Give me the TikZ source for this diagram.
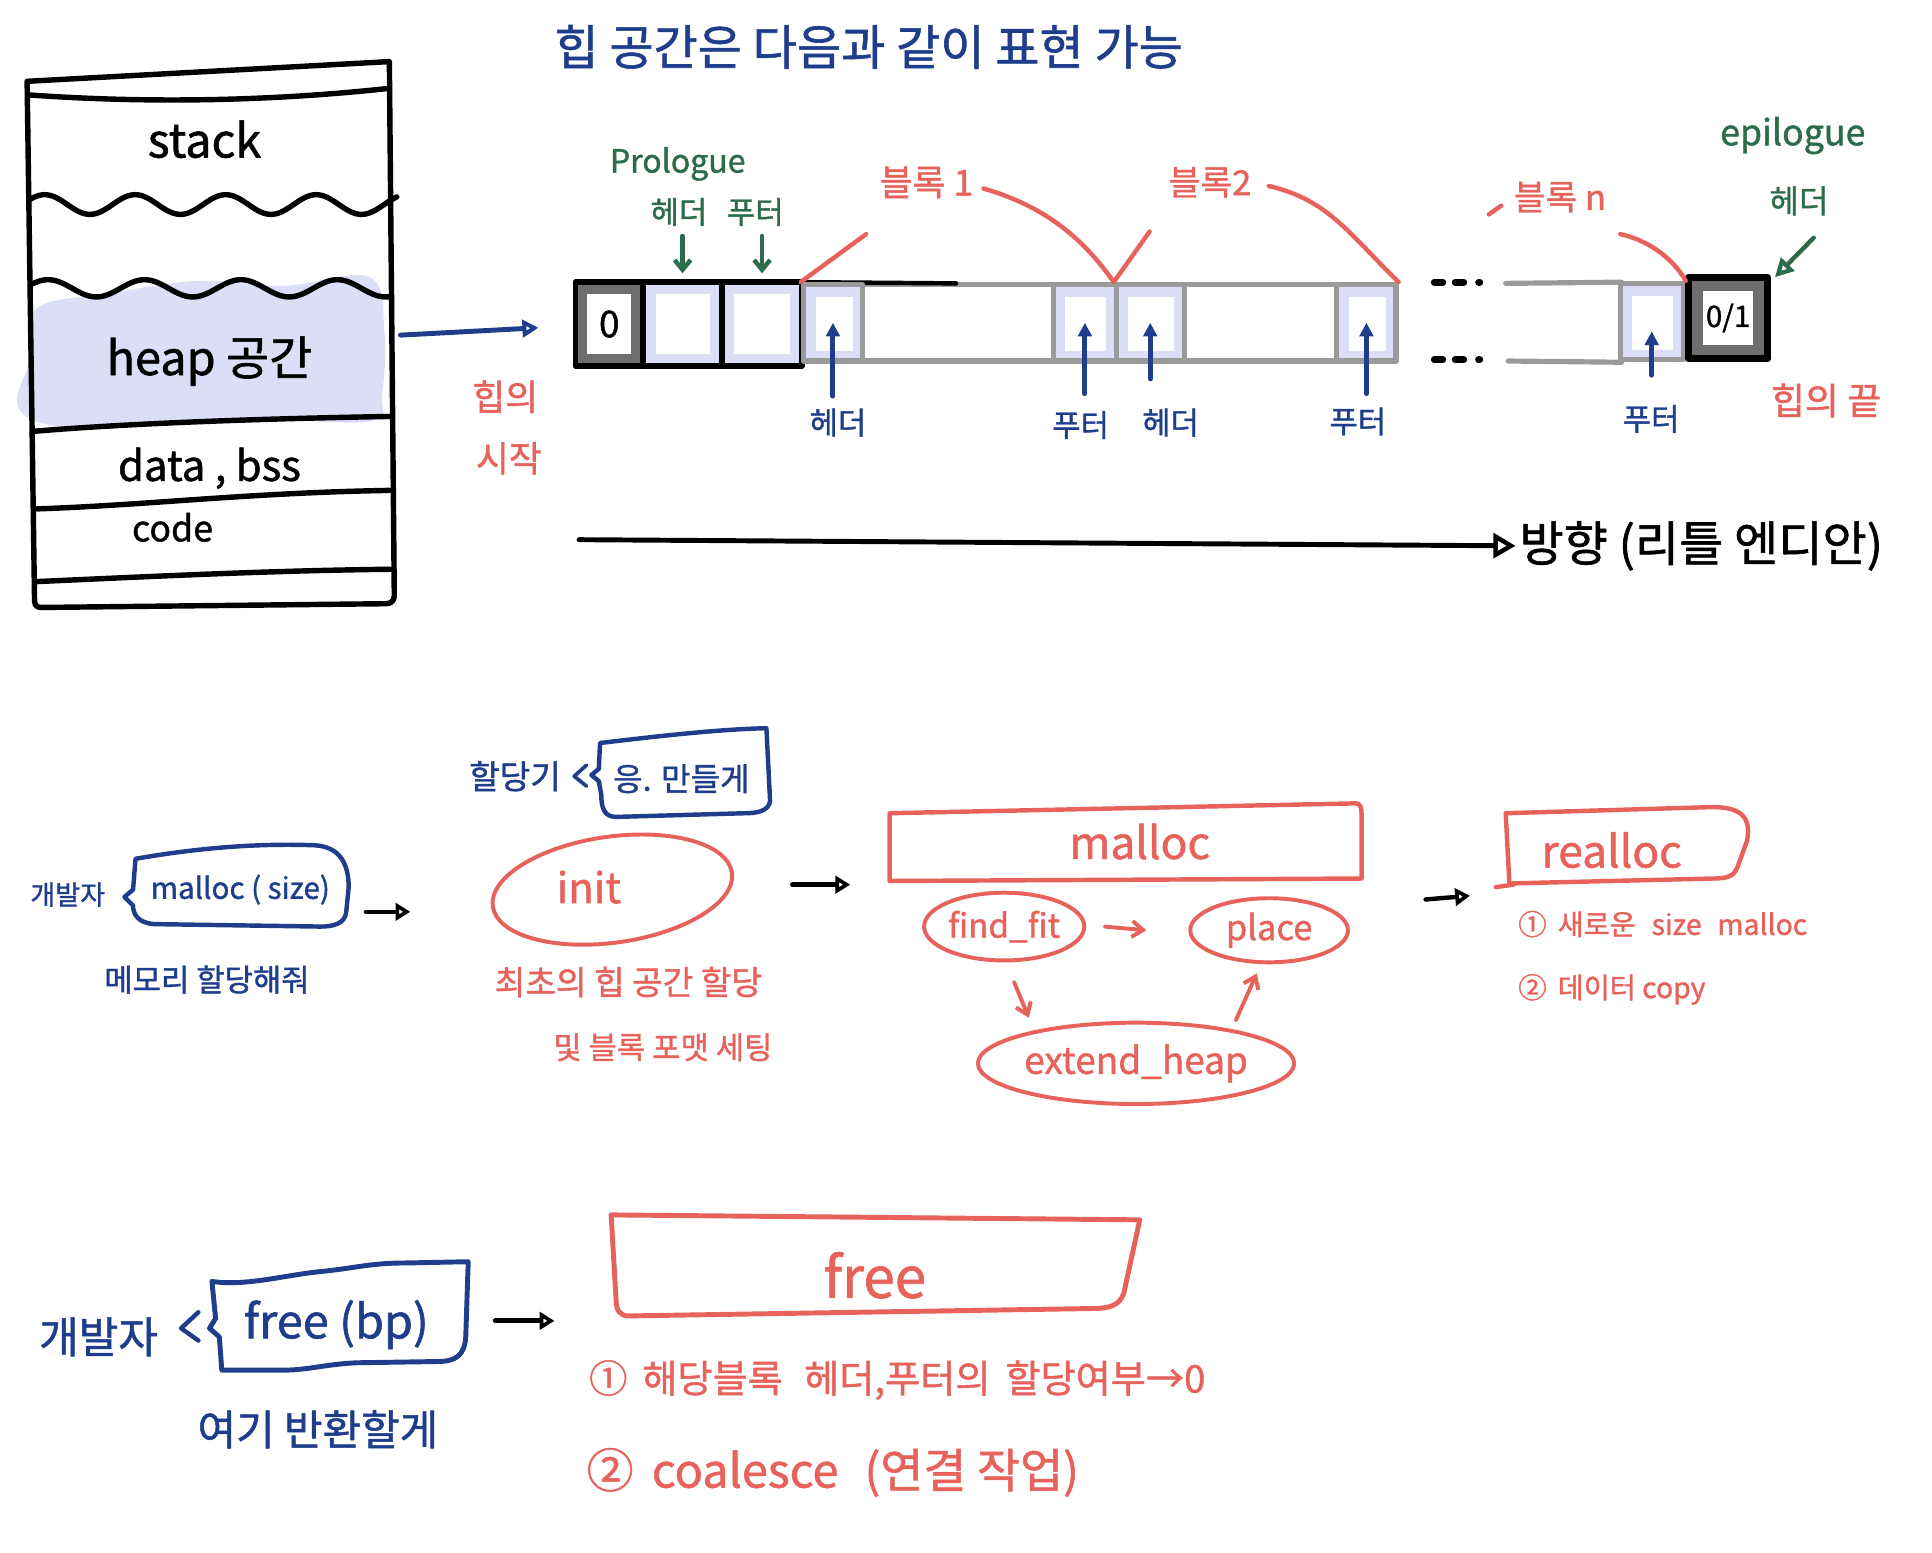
\documentclass[tikz,border=0pt]{standalone}
\usepackage{fontspec}
\setmainfont{Noto Sans CJK KR}[FakeBold=1.2]
\usetikzlibrary{arrows.meta,shapes.geometric,calc}
\definecolor{navy}{HTML}{1E3E8C}
\definecolor{hred}{HTML}{E8625C}
\definecolor{hgreen}{HTML}{2D6C4B}
\definecolor{lav}{HTML}{DCDEF8}
\definecolor{agray}{HTML}{9A9A9A}
\definecolor{dgray}{HTML}{6E6E6E}
\newcommand{\hsz}[1]{\fontsize{#1}{#1}\selectfont}
\begin{document}
\begin{tikzpicture}[x=1pt,y=-1pt,line cap=round,line join=round,
  ink/.style={line width=4.4pt},
  lbl/.style={inner sep=0pt},
  barr/.style={navy,line width=4pt,-{Triangle[length=11pt,width=11pt]}},
  garr/.style={hgreen,line width=3.6pt,-{Straight Barb[length=8pt,width=13pt]}},
  gopen/.style={hgreen,line width=3.6pt,-{Triangle[open,length=15pt,width=15pt,line width=3.4pt]}},
  rarr/.style={hred,line width=3.2pt,-{Straight Barb[length=9pt,width=13pt]}},
  redln/.style={hred,line width=3.6pt},
  karr/.style={black,line width=3.6pt,-{Triangle[open,length=12pt,width=14pt,line width=3pt]}},
  bbox/.style={navy,line width=3.6pt},
  rbox/.style={hred,line width=3.6pt},
  pcell/.style={draw=black,line width=4.4pt,fill=lav,minimum height=68pt,inner sep=0pt},
  gcell/.style={draw=agray,line width=4.2pt,fill=lav,minimum height=62pt,inner sep=0pt},
  incell/.style={fill=white,inner sep=0pt},
  rell/.style={draw=hred,line width=3.2pt,ellipse,inner sep=0pt,text=hred},
]
\useasboundingbox (0,0) rectangle (1568,1260);

% ---------------- memory layout ----------------
\fill[lav] plot[smooth cycle, tension=0.6] coordinates {(30,250) (90,238) (160,228) (230,232) (300,225) (312,270) (310,320) (300,342) (200,340) (100,346) (40,345) (14,328) (25,290)};
\draw[ink] (22,66) -- (316,50) -- (320,484) .. controls (319,490) and (316,490) .. (310,490) -- (34,493) .. controls (28,493) and (28,490) .. (28,485) -- cycle;
\draw[ink] (23,77) .. controls (120,84) and (220,82) .. (313,72);
\draw[ink] plot[domain=24:322,samples=150] (\x,{166+8*sin((\x-24)*4.9+210)});
\draw[ink] plot[domain=26:318,samples=150] (\x,{234+7*sin((\x-26)*4.6+210)});
\draw[ink] (28,350) .. controls (100,344) and (200,340) .. (316,338);
\draw[ink] (30,413) .. controls (120,410) and (200,400) .. (316,398);
\draw[ink] (30,472) .. controls (120,468) and (220,463) .. (318,462);
\node[lbl,font=\hsz{38}] (stk) at (166,113) {stack};
\node[lbl,font=\hsz{38}] (heap) at (170,293) {heap 공간};
\node[lbl,font=\hsz{34}] (dbss) at (170,380) {data , bss};
\node[lbl,font=\hsz{29}] (code) at (140,428) {code};
\coordinate (hs0) at (325,272);
\coordinate (hs1) at (437,266);
\draw[navy,line width=4pt,-{Triangle[open,length=13pt,width=14pt,line width=3.4pt]}] (hs0) -- (hs1);
\node[lbl,font=\hsz{29},text=hred] (hst1) at (410,322) {힙의};
\node[lbl,font=\hsz{29},text=hred] (hst2) at (413,372) {시작};

% ---------------- title ----------------
\node[lbl,font=\hsz{39},text=navy] (title) at (705,38) {힙 공간은 다음과 같이 표현 가능};

% ---------------- heap array ----------------
\draw[agray,line width=4.2pt] (651,231) -- (1133,231);
\draw[agray,line width=4.2pt] (651,293) -- (1133,293);
\draw[black,line width=3.6pt] (651,229) -- (776,230);
\draw[agray,line width=4.2pt] (1222,230) -- (1316,229);
\draw[agray,line width=4.2pt] (1224,293) -- (1316,294);
\foreach \yy in {229,292}{
  \draw[black,line width=5.5pt] (1164,\yy) -- (1171,\yy);
  \draw[black,line width=5.5pt] (1181,\yy) -- (1188,\yy);
  \draw[black,line width=5.5pt] (1200,\yy) -- (1201,\yy);
}
% prologue part
\node[pcell,fill=dgray,minimum width=55pt] (c0) at (494.5,263) {};
\node[incell,minimum width=36pt,minimum height=48pt,font=\hsz{30}] (c0t) at (c0) {0};
\node[pcell,minimum width=64pt] (c1) at (554,263) {};
\node[incell,minimum width=44pt,minimum height=48pt] (c1i) at (c1) {};
\node[pcell,minimum width=65pt] (c2) at (618.5,263) {};
\node[incell,minimum width=45pt,minimum height=48pt] (c2i) at (c2) {};
% block cells
\node[gcell,minimum width=48pt] (h1) at (676,262) {};
\node[incell,minimum width=30pt,minimum height=44pt] (h1i) at (677,263) {};
\node[gcell,minimum width=51pt] (f1) at (880.5,262) {};
\node[incell,minimum width=33pt,minimum height=44pt] (f1i) at (881,263) {};
\node[gcell,minimum width=55pt] (h2) at (933.5,262) {};
\node[incell,minimum width=37pt,minimum height=44pt] (h2i) at (934,263) {};
\node[gcell,minimum width=48pt] (f2) at (1109,262) {};
\node[incell,minimum width=30pt,minimum height=44pt] (f2i) at (1110,263) {};
\node[gcell,minimum width=51pt] (fn) at (1340.5,261) {};
\node[incell,minimum width=33pt,minimum height=44pt] (fni) at (1341,262) {};
% epilogue
\node[draw=black,line width=6pt,fill=dgray,minimum width=64pt,minimum height=66pt,inner sep=0pt] (ep) at (1402.5,258) {};
\node[incell,minimum width=40pt,minimum height=44pt,font=\hsz{24}] (ept) at (ep) {0/1};

% prologue labels
\node[lbl,font=\hsz{26},text=hgreen] (pro) at (550,133) {Prologue};
\node[lbl,font=\hsz{25},text=hgreen] (ph) at (551,172) {헤더};
\node[lbl,font=\hsz{25},text=hgreen] (pf) at (613,172) {푸터};
\draw[garr] (c1.north |- ph.south) ++(0,8) -- ([yshift=5pt]c1.north);
\draw[garr] (c2.north |- pf.south) ++(0,8) -- ([yshift=5pt]c2.north);

% block labels and braces
\node[lbl,font=\hsz{29},text=hred] (b1) at (752,148) {블록 1};
\node[lbl,font=\hsz{28},text=hred] (b2) at (982,148) {블록2};
\node[lbl,font=\hsz{28},text=hred] (bn) at (1266,160) {블록 n};
\coordinate (b1l) at (703,190);
\coordinate (b2l) at (933,188);
\draw[redln] (h1.north west) -- (b1l);
\draw[redln] (b1.east) ++(8,5) .. controls (850,168) and (880,195) .. (h2.north west);
\draw[redln] (h2.north west) -- (b2l);
\draw[redln] (b2.east) ++(14,3) .. controls (1078,162) and (1095,190) .. (f2.north east);
\draw[redln] (bn.west) ++(-20,14) -- ++(10,-7);
\draw[redln] (1315,190) .. controls (1338,195) and (1358,210) .. (fn.north east);

% blue labels under cells
\node[lbl,font=\hsz{25},text=navy] (lh1) at (680,343) {헤더};
\node[lbl,font=\hsz{25},text=navy] (lf1) at (877,345) {푸터};
\node[lbl,font=\hsz{25},text=navy] (lh2) at (950,343) {헤더};
\node[lbl,font=\hsz{25},text=navy] (lf2) at (1102,342) {푸터};
\node[lbl,font=\hsz{25},text=navy] (lfn) at (1340,340) {푸터};
\draw[barr] (h1.center |- lh1.north) ++(0,-10) -- (h1.center);
\draw[barr] (f1.center |- lf1.north) ++(0,-14) -- (f1.center);
\draw[barr] (h2.center |- lh2.north) ++(0,-24) -- (h2.center);
\draw[barr] (f2.center |- lf2.north) ++(0,-11) -- (f2.center);
\draw[barr] (fn.center |- lfn.north) ++(0,-24) -- ([yshift=-8pt]fn.center);

% epilogue labels
\node[lbl,font=\hsz{29},text=hgreen] (epl) at (1455,110) {epilogue};
\node[lbl,font=\hsz{26},text=hgreen] (eph) at (1460,163) {헤더};
\draw[gopen] (eph.south) ++(12,18) -- ([xshift=3pt,yshift=-3pt]ep.north east);
\node[lbl,font=\hsz{30},text=hred] (hend) at (1482,325) {힙의 끝};

% direction
\coordinate (d0) at (470,438);
\node[lbl,font=\hsz{39},anchor=west] (dir) at (1233,443) {방향 (리틀 엔디안)};
\draw[black,line width=4pt,-{Triangle[open,length=18pt,width=20pt,line width=3.6pt]}] (d0) -- ([xshift=-3pt]dir.west);

% ---------------- malloc section ----------------
\node[lbl,font=\hsz{22},text=navy] (dev1) at (55,726) {개발자};
\draw[bbox] (110,697) .. controls (150,690) and (200,684) .. (255,686) .. controls (275,687) and (283,700) .. (283,720) -- (281,740) .. controls (280,750) and (270,752) .. (260,752) -- (125,750) .. controls (112,749) and (108,742) .. (108,735) -- (101,728) -- (108,722) -- cycle;
\node[lbl,font=\hsz{24},text=navy] (ms) at (195,722) {malloc ( size)};
\node[lbl,font=\hsz{25},text=navy] (mem) at (168,795) {메모리 할당해줘};
\coordinate (k1a) at (297,740);
\coordinate (k1b) at (333,740);
\draw[karr] (k1a) -- (k1b);

\node[lbl,font=\hsz{27},text=navy] (alc) at (418,630) {할당기};
\draw[navy,line width=3pt] (476,621) -- (466,630) -- (476,638);
\draw[bbox] (487,603) .. controls (530,598) and (580,592) .. (622,591) -- (625,650) .. controls (624,658) and (615,660) .. (605,660) -- (500,663) .. controls (490,663) and (488,655) .. (488,645) -- (486,634) -- (480,629) -- (486,624) -- cycle;
\node[lbl,font=\hsz{26},text=navy] (okm) at (553,632) {응. 만들게};

\node[rell,minimum width=196pt,minimum height=86pt,rotate=8] (initE) at (497,722) {};
\node[lbl,font=\hsz{34},text=hred] (init) at (478,720) {init};
\node[lbl,font=\hsz{27},text=hred] (ini1) at (510,797) {최초의 힙 공간 할당};
\node[lbl,font=\hsz{25},text=hred] (ini2) at (538,850) {및 블록 포맷 세팅};
\coordinate (k2a) at (643,718);
\coordinate (k2b) at (690,718);
\draw[karr] (k2a) -- (k2b);

\draw[rbox] (722,660) -- (1100,652) .. controls (1104,652) and (1105,655) .. (1105,660) -- (1105,713) -- (722,715) -- cycle;
\node[lbl,font=\hsz{36},text=hred] (mal) at (925,683) {malloc};
\node[rell,minimum width=130pt,minimum height=55pt,font=\hsz{27}] (ff) at (815,752) {find\_fit};
\node[rell,minimum width=128pt,minimum height=52pt,font=\hsz{28}] (pl) at (1030,755) {place};
\node[rell,minimum width=200pt,minimum height=66pt,font=\hsz{30}] (eh) at (922,863) {extend\_heap};
\draw[rarr] ([xshift=15pt]ff.east) -- ([xshift=-34pt]pl.west);
\coordinate (r1a) at (823,797);
\coordinate (r1b) at (835,826);
\draw[rarr] (r1a) -- (r1b);
\coordinate (r2a) at (1003,828);
\coordinate (r2b) at (1020,790);
\draw[rarr] (r2a) -- (r2b);
\coordinate (k3a) at (1157,730);
\coordinate (k3b) at (1193,727);
\draw[karr] (k3a) -- (k3b);

\draw[rbox] (1222,660) -- (1390,655) .. controls (1415,655) and (1421,665) .. (1418,682) -- (1410,704) .. controls (1407,712) and (1400,713) .. (1390,713) -- (1225,717) -- cycle;
\draw[rbox] (1214,720) -- (1228,718);
\node[lbl,font=\hsz{36},text=hred] (real) at (1308,690) {realloc};
\node[lbl,font=\hsz{23},text=hred,anchor=west] (re1) at (1232,750) {①\, 새로운\, \,size\, \,malloc};
\node[lbl,font=\hsz{23},text=hred,anchor=west] (re2) at (1232,803) {②\, 데이터 copy};

% ---------------- free section ----------------
\node[lbl,font=\hsz{35},text=navy] (dev2) at (80,1085) {개발자};
\draw[navy,line width=3.6pt] (161,1065) -- (147,1078) -- (161,1088);
\draw[bbox,line width=4pt] (172,1040) .. controls (200,1044) and (230,1035) .. (260,1032) .. controls (290,1029) and (300,1025) .. (330,1025) -- (380,1024) -- (378,1085) .. controls (377,1100) and (370,1105) .. (355,1105) -- (290,1106) .. controls (265,1107) and (250,1112) .. (230,1112) -- (180,1112) -- (178,1085) -- (170,1078) -- (175,1070) -- cycle;
\node[lbl,font=\hsz{38},text=navy] (fb) at (273,1075) {free (bp)};
\node[lbl,font=\hsz{34},text=navy] (ret) at (258,1160) {여기 반환할게};
\coordinate (k4a) at (402,1072);
\coordinate (k4b) at (450,1072);
\draw[karr,line width=4pt] (k4a) -- (k4b);

\draw[rbox,line width=4pt] (496,986) -- (925,990) -- (912,1050) .. controls (908,1060) and (900,1062) .. (885,1062) -- (510,1068) .. controls (503,1068) and (500,1063) .. (500,1055) -- cycle;
\node[lbl,font=\hsz{46},text=hred] (fr) at (710,1035) {free};
\node[lbl,font=\hsz{31},text=hred,anchor=west] (fr1) at (478,1120) {①\, 해당블록\,\, 헤더,푸터의\, 할당여부→0};
\node[lbl,font=\hsz{38},text=hred,anchor=west] (fr2) at (476,1195) {②\, coalesce\,\, (연결 작업)};
\end{tikzpicture}
\end{document}
